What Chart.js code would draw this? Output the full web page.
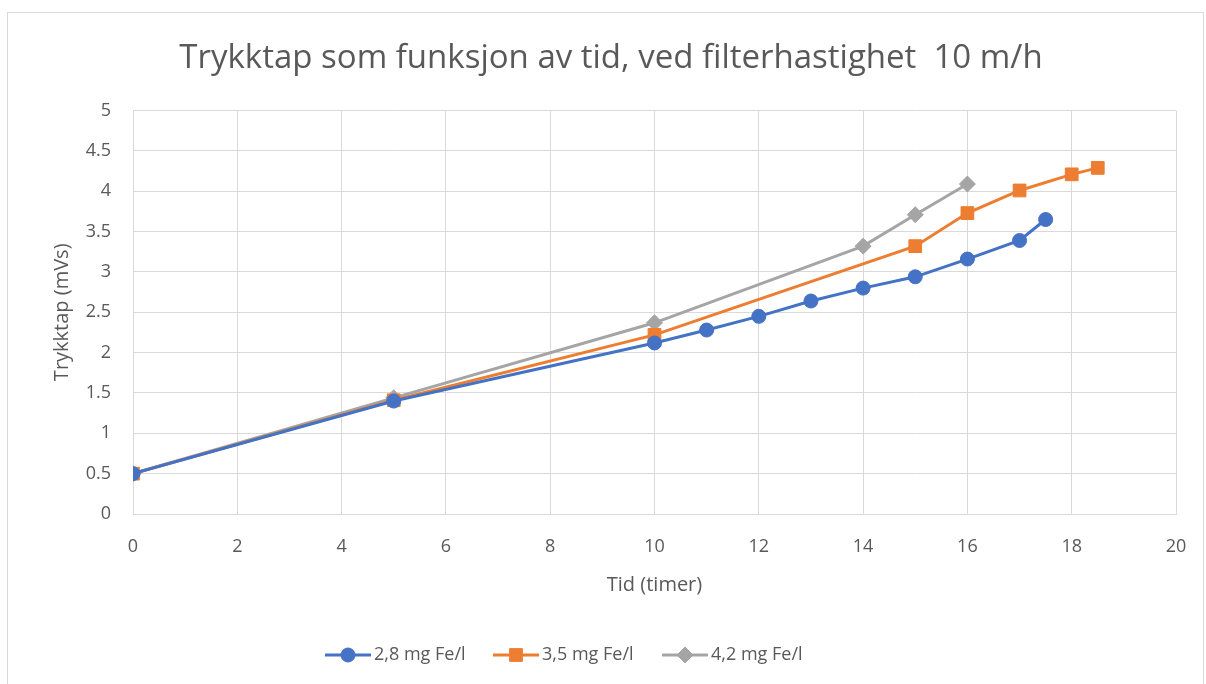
<!DOCTYPE html>
<html>
<head>
<meta charset="utf-8">
<script src="https://cdn.jsdelivr.net/npm/chart.js@4"></script>
<style>
  html, body { margin: 0; padding: 0; background: #fff; }
  #wrap { width: 1206px; height: 684px; position: relative; }
</style>
</head>
<body>
<div id="wrap"><canvas id="chart"></canvas></div>
<script>
const titleText = 'Trykktap som funksjon av tid, ved filterhastighet  10 m/h';
const xTitle = 'Tid (timer)';
const yTitle = 'Trykktap (mVs)';

const seriesNames = ['2,8 mg Fe/l', '3,5 mg Fe/l', '4,2 mg Fe/l'];
const seriesColors = ['#4472C4', '#ED7D31', '#A5A5A5'];
const seriesMarkers = ['circle', 'rect', 'rectRot'];

const timeA = [0, 5, 10, 11, 12, 13, 14, 15, 16, 17, 17.5];
const lossA = [0.5, 1.4, 2.12, 2.28, 2.45, 2.64, 2.8, 2.94, 3.16, 3.39, 3.65];

const timeB = [0, 5, 10, 15, 16, 17, 18, 18.5];
const lossB = [0.5, 1.41, 2.22, 3.32, 3.73, 4.01, 4.21, 4.29];

const timeC = [0, 5, 10, 14, 15, 16];
const lossC = [0.5, 1.44, 2.37, 3.32, 3.71, 4.09];

const xMin = 0, xMax = 20, xStep = 2;
const yMin = 0, yMax = 5, yStep = 0.5;

const textColor = '#595959';
const gridColor = '#D9D9D9';
const fontFamily = 'Open Sans';

const toPoints = (xs, ys) => xs.map((x, i) => ({ x: x, y: ys[i] }));
const seriesPoints = [toPoints(timeA, lossA), toPoints(timeB, lossB), toPoints(timeC, lossC)];
const markerSize = [7, 9, 8];

const datasets = seriesNames.map((name, i) => ({
  label: name,
  data: seriesPoints[i],
  borderColor: seriesColors[i],
  backgroundColor: seriesColors[i],
  borderWidth: 3,
  pointStyle: seriesMarkers[i],
  pointRadius: markerSize[i],
  pointBorderWidth: 1,
  pointHoverRadius: markerSize[i],
  tension: 0
}));

// white background and the thin outer frame
const framePlugin = {
  id: 'frame',
  beforeDraw(chart) {
    const ctx = chart.ctx;
    ctx.save();
    ctx.fillStyle = '#fff';
    ctx.fillRect(0, 0, chart.width, chart.height);
    ctx.strokeStyle = gridColor;
    ctx.lineWidth = 1;
    ctx.strokeRect(7.5, 12.5, chart.width - 10, chart.height);
    ctx.restore();
  }
};

// Excel-style legend: short line with the marker in the middle
const legendPlugin = {
  id: 'lineLegend',
  afterDraw(chart) {
    const ctx = chart.ctx;
    const lineStarts = [325, 493, 662];
    const y = 655;
    ctx.save();
    ctx.font = '18px "' + fontFamily + '"';
    ctx.textBaseline = 'middle';
    seriesNames.forEach((name, i) => {
      const x0 = lineStarts[i];
      ctx.strokeStyle = seriesColors[i];
      ctx.fillStyle = seriesColors[i];
      ctx.lineWidth = 3;
      ctx.beginPath();
      ctx.moveTo(x0, y);
      ctx.lineTo(x0 + 46, y);
      ctx.stroke();
      ctx.lineWidth = 1;
      Chart.helpers.drawPoint(ctx, { pointStyle: seriesMarkers[i], radius: markerSize[i], borderWidth: 1 }, x0 + 23, y);
      ctx.fillStyle = textColor;
      ctx.fillText(name, x0 + 49, y);
    });
    ctx.restore();
  }
};

new Chart(document.getElementById('chart'), {
  type: 'line',
  data: { datasets: datasets },
  plugins: [framePlugin, legendPlugin],
  options: {
    responsive: true,
    maintainAspectRatio: false,
    animation: false,
    layout: { padding: { left: 46, right: 30, top: 0, bottom: 85 } },
    plugins: {
      legend: { display: false },
      tooltip: { enabled: false },
      title: {
        display: true,
        text: titleText,
        color: textColor,
        font: { family: fontFamily, size: 33, weight: 'normal' },
        padding: { top: 39, bottom: 32 }
      }
    },
    scales: {
      x: {
        type: 'linear',
        min: xMin,
        max: xMax,
        afterFit: (scale) => {
          scale.height = 85;
          scale.paddingRight = 0;  // tick padding would otherwise push the plot in
        },
        ticks: { stepSize: xStep, color: textColor, font: { family: fontFamily, size: 18 }, padding: 22 },
        grid: { color: gridColor, lineWidth: 1, drawTicks: false },
        border: { color: gridColor },
        title: { display: true, text: xTitle, color: textColor, font: { family: fontFamily, size: 20 }, padding: { top: 4, bottom: 2 } }
      },
      y: {
        type: 'linear',
        min: yMin,
        max: yMax,
        afterFit: (scale) => { scale.width = 87; },
        ticks: {
          stepSize: yStep,
          color: textColor,
          font: { family: fontFamily, size: 18 },
          padding: 22,
          callback: (v) => String(v)
        },
        grid: { color: gridColor, lineWidth: 1, drawTicks: false },
        border: { color: gridColor },
        title: { display: true, text: yTitle, color: textColor, font: { family: fontFamily, size: 20 }, padding: { top: 4, bottom: 12 } }
      }
    }
  }
});
</script>
</body>
</html>
